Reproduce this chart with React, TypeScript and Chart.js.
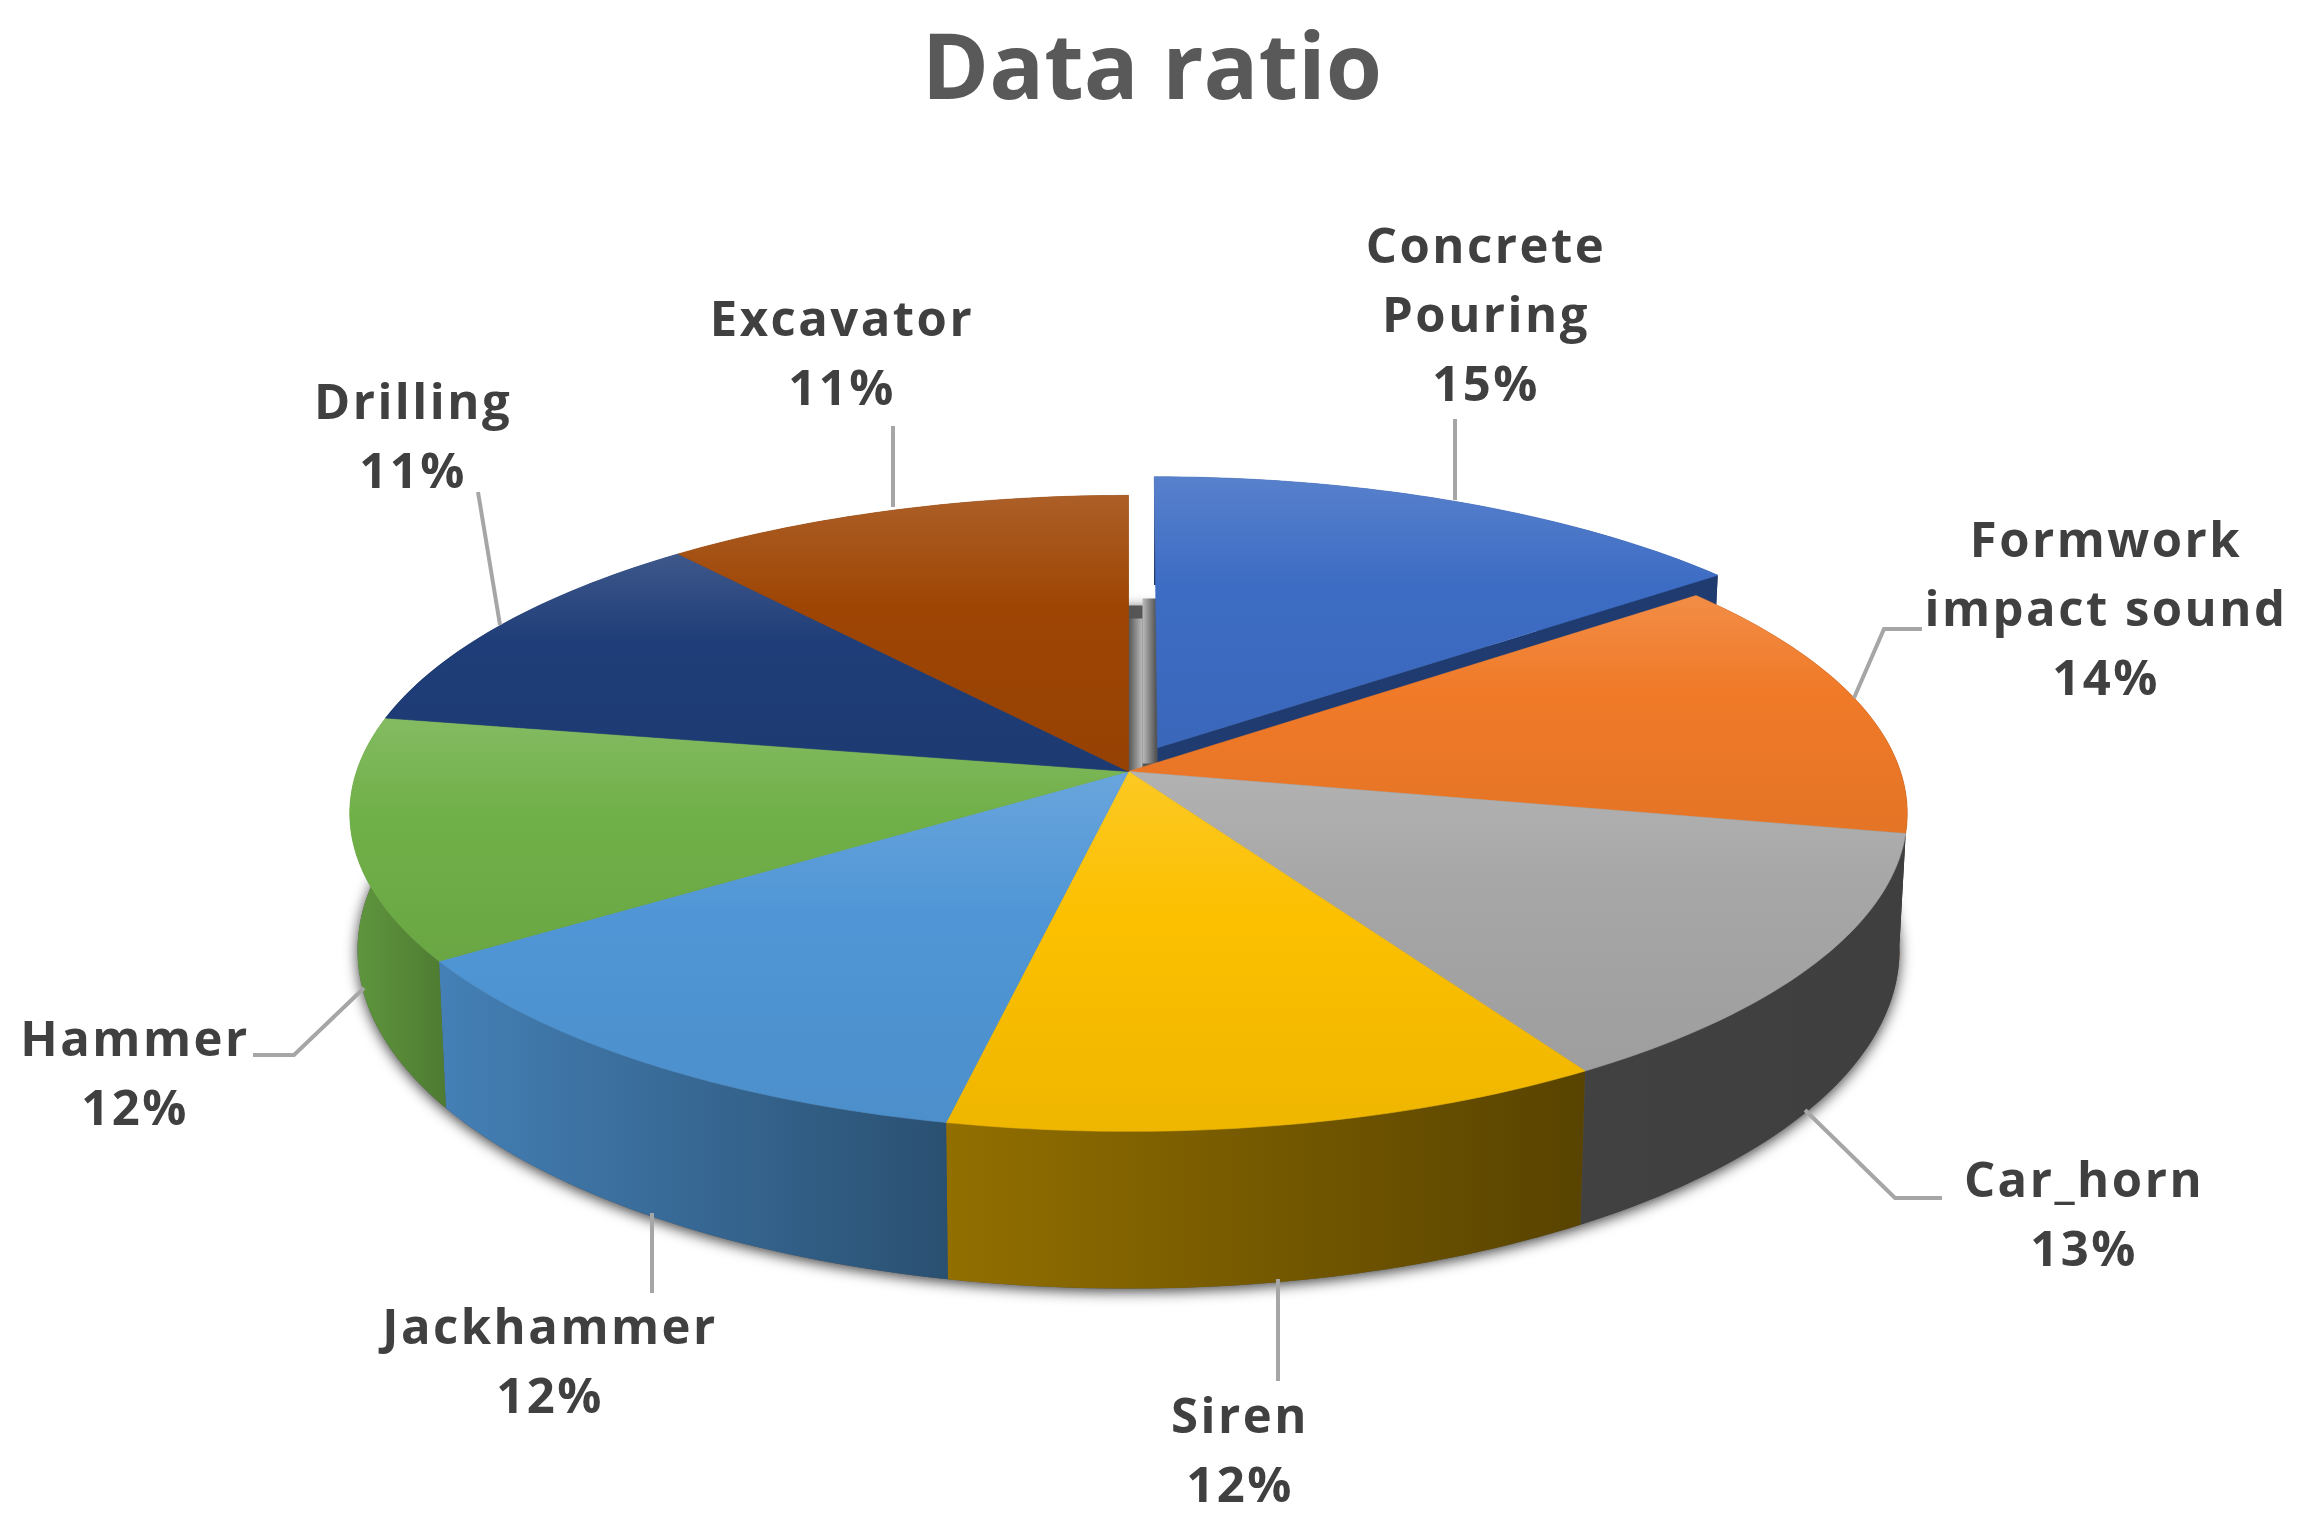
import React, { useEffect, useRef } from "react";
import { Chart, registerables } from "chart.js";

Chart.register(...registerables);

const categories = ["Concrete Pouring", "Formwork impact sound", "Car_horn", "Siren", "Jackhammer", "Hammer", "Drilling", "Excavator"];
const values = [14.6, 13.5, 13.1, 12.1, 12.2, 12.3, 11.1, 11.1];
const colors = ["#3d6cc4", "#f07a28", "#a6a6a6", "#fcc000", "#5096d6", "#70b048", "#1f3d78", "#9e4504"];
const titleText = "Data ratio";

// per-slice wall shading (darkening at the left and right of each side wall)
const wallShade: [number, number][] = [[0.48, 0.48], [0.78, 0.78], [0.61, 0.62], [0.42, 0.65], [0.15, 0.47], [0.14, 0.3], [0.5, 0.5], [0.5, 0.5]];

// label layout in picture pixels
const labelLayout = [
  { lines: ["Concrete", "Pouring"], x: 1486, y: 249, leader: [[1455, 419], [1455, 500]] },
  { lines: ["Formwork", "impact sound"], x: 2106, y: 543, leader: [[1922, 629], [1884, 629], [1854, 698]] },
  { lines: ["Car_horn"], x: 2084, y: 1183, leader: [[1942, 1198], [1895, 1198], [1805, 1110]] },
  { lines: ["Siren"], x: 1240, y: 1419, leader: [[1278, 1381], [1278, 1279]] },
  { lines: ["Jackhammer"], x: 550, y: 1330, leader: [[652, 1293], [652, 1213]] },
  { lines: ["Hammer"], x: 135, y: 1042, leader: [[253, 1055], [294, 1055], [364, 988]] },
  { lines: ["Drilling"], x: 413, y: 405, leader: [[478, 492], [500, 625]] },
  { lines: ["Excavator"], x: 842, y: 322, leader: [[893, 426], [893, 507]] },
];
const LINE_H = 69;
const LABEL_FONT = 'bold 49px "Open Sans"';

const SCALE = 1.4694;
const PERSPECTIVE = 0.1316;
const RADIUS = 772;
const RY_RATIO = 312.5 / 772;
const PAN_X = -23.5;
const EXPLODE = 0.086;

function mix(hex: string, target: number, t: number) {
  const n = parseInt(hex.slice(1), 16);
  const c = [(n >> 16) & 255, (n >> 8) & 255, n & 255].map((v) => Math.round(v + (target - v) * t));
  return `rgb(${c[0]},${c[1]},${c[2]})`;
}

const pie3d = {
  id: "pie3d",
  beforeDatasetDraw(chart: any) {
    const ctx: CanvasRenderingContext2D = chart.ctx;
    const arcs = chart.getDatasetMeta(0).data;
    const cx = arcs[0].x + PAN_X;
    const cy = arcs[0].y;
    const rx = arcs[0].outerRadius;
    const ry = rx * RY_RATIO;
    const project = (a: number, level: number, sx = 0, sy = 0, r = 1) => {
      const x = r * Math.cos(a) + sx;
      const y = r * Math.sin(a) + sy;
      const d = 1 - PERSPECTIVE * y;
      let X = (rx * x) / d;
      let Y = (ry * y) / d;
      if (level) {
        X *= 0.99;
        Y += (91 + 16 * y) * SCALE;
      }
      return [cx + X, cy + Y];
    };
    const rim = (a0: number, a1: number, level: number, sx = 0, sy = 0) => {
      const n = Math.max(2, Math.ceil(Math.abs(a1 - a0) / 0.02));
      const pts = [];
      for (let i = 0; i <= n; i++) pts.push(project(a0 + ((a1 - a0) * i) / n, level, sx, sy));
      return pts;
    };
    const poly = (pts: number[][]) => {
      ctx.beginPath();
      pts.forEach((p, i) => (i ? ctx.lineTo(p[0], p[1]) : ctx.moveTo(p[0], p[1])));
      ctx.closePath();
    };
    const shiftOf = (arc: any, i: number) => {
      if (i !== 0) return [0, 0];
      const mid = (arc.startAngle + arc.endAngle) / 2;
      return [EXPLODE * Math.cos(mid), EXPLODE * Math.sin(mid)];
    };

    ctx.save();
    // soft shadow beneath the disc
    ctx.save();
    ctx.shadowColor = "rgba(0,0,0,0.75)";
    ctx.shadowBlur = 14;
    ctx.shadowOffsetY = 3;
    ctx.fillStyle = "#555";
    poly(rim(0, Math.PI * 2, 1));
    ctx.fill();
    ctx.restore();

    // inner faces seen through the gap left by the pulled-out slice
    const apex = project(0, 0, 0, 0, 0);
    const strip = (x0: number, x1: number, top: number, bottom: number, c0: string, c1: string) => {
      const g = ctx.createLinearGradient(x0, 0, x1, 0);
      g.addColorStop(0, c0);
      g.addColorStop(1, c1);
      ctx.fillStyle = g;
      ctx.fillRect(x0, top, x1 - x0, bottom - top);
    };
    strip(apex[0], apex[0] + 14, apex[1] - 153, apex[1], "#555", "#bbb");
    strip(apex[0] + 14, apex[0] + 28, apex[1] - 173, apex[1] - 8, "#bbb", "#505050");

    // side walls
    arcs.forEach((arc: any, i: number) => {
      const [sx, sy] = shiftOf(arc, i);
      const top = rim(arc.startAngle, arc.endAngle, 0, sx, sy);
      const bot = rim(arc.startAngle, arc.endAngle, 1, sx, sy).reverse();
      const pts = top.concat(bot);
      const xs = pts.map((p) => p[0]);
      const g = ctx.createLinearGradient(Math.min(...xs), 0, Math.max(...xs), 0);
      g.addColorStop(0, mix(colors[i], 0, wallShade[i][0]));
      g.addColorStop(1, mix(colors[i], 0, wallShade[i][1]));
      ctx.fillStyle = g;
      poly(pts);
      ctx.fill();
      if (i === 0) {
        // the cut face that looks towards the viewer
        const c0 = project(0, 0, sx, sy, 0);
        const c1 = project(arc.endAngle, 0, sx, sy);
        const d0 = project(0, 1, sx, sy, 0);
        const d1 = project(arc.endAngle, 1, sx, sy);
        ctx.fillStyle = "#1f3b70";
        poly([c0, c1, d1, d0]);
        ctx.fill();
      }
    });

    // top surfaces
    arcs.forEach((arc: any, i: number) => {
      const [sx, sy] = shiftOf(arc, i);
      const pts = [project(0, 0, sx, sy, 0)].concat(rim(arc.startAngle, arc.endAngle, 0, sx, sy));
      const ys = pts.map((p) => p[1]);
      const y0 = Math.min(...ys);
      const y1 = Math.max(...ys);
      const g = ctx.createLinearGradient(0, y0, 0, y1);
      g.addColorStop(0, mix(colors[i], 255, 0.14));
      g.addColorStop(0.4, colors[i]);
      g.addColorStop(1, mix(colors[i], 0, 0.05));
      ctx.fillStyle = g;
      poly(pts);
      ctx.fill();
      ctx.strokeStyle = g;
      ctx.lineWidth = 0.6;
      ctx.stroke();
    });
    ctx.restore();
    return false;
  },
  afterDatasetsDraw(chart: any) {
    const ctx: any = chart.ctx;
    const total = values.reduce((a, b) => a + b, 0);
    ctx.save();
    ctx.strokeStyle = "#a6a6a6";
    ctx.lineWidth = 4;
    ctx.fillStyle = "#404040";
    ctx.font = LABEL_FONT;
    ctx.letterSpacing = "2.5px";
    ctx.textAlign = "center";
    ctx.textBaseline = "middle";
    labelLayout.forEach((l, i) => {
      ctx.beginPath();
      l.leader.forEach((p, k) => (k ? ctx.lineTo(p[0], p[1]) : ctx.moveTo(p[0], p[1])));
      ctx.stroke();
      const pct = `${Math.round((values[i] / total) * 100)}%`;
      l.lines.concat(pct).forEach((t, k) => ctx.fillText(t, l.x, l.y + k * LINE_H));
    });
    ctx.restore();
  },
};

export default function App() {
  const ref = useRef<HTMLCanvasElement>(null);
  useEffect(() => {
    const chart = new Chart(ref.current as HTMLCanvasElement, {
      type: "pie",
      data: {
        labels: categories,
        datasets: [{ data: values, backgroundColor: colors, borderWidth: 0, radius: RADIUS }],
      },
      options: {
        animation: false,
        responsive: false,
        devicePixelRatio: 1,
        layout: { padding: { bottom: 109.2, right: 0 } },
        plugins: {
          legend: { display: false },
          tooltip: { enabled: false },
          title: {
            display: true,
            text: titleText,
            color: "#595959",
            font: { family: '"Open Sans"', size: 91, weight: "bold", lineHeight: 1.2 },
            padding: { top: 18, bottom: 0 },
          },
        },
      },
      plugins: [pie3d],
    } as any);
    return () => chart.destroy();
  }, []);
  return (
    <div style={{ position: "absolute", left: 0, top: 0, width: 2304, height: 1525, background: "#fff" }}>
      <canvas ref={ref} width={2304} height={1525} style={{ display: "block", filter: "blur(0.7px)" }} />
    </div>
  );
}
